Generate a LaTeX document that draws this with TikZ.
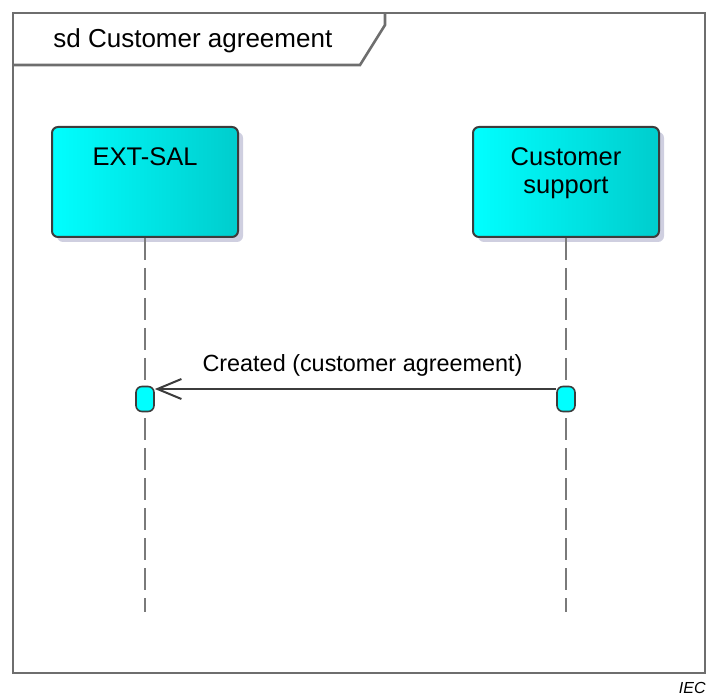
\documentclass[tikz,border=0pt]{standalone}
\usepackage{fontspec}
\setmainfont{Liberation Sans}
\usetikzlibrary{positioning,arrows.meta,shadows}
\definecolor{colorbox}{HTML}{00FFFF}
\definecolor{colorboxdk}{HTML}{00CDCD}
\definecolor{colorline}{HTML}{3C3C3C}
\definecolor{colorframe}{HTML}{6E6E6E}
\definecolor{colorshade}{HTML}{CFCFE0}
\definecolor{colorlife}{HTML}{7A7A7A}
\tikzset{
  framebox/.style={draw=colorframe, line width=1.3pt},
  actorbox/.style={draw=colorline, line width=1pt, rounded corners=3pt,
    left color=colorbox, right color=colorboxdk, inner sep=0pt,
    minimum width=93pt, minimum height=55pt,
    drop shadow={shadow xshift=2.5pt, shadow yshift=-2.5pt, fill=colorshade, opacity=1}},
  actorname/.style={font=\fontsize{12.75}{14}\selectfont, align=center, inner sep=0pt},
  actbar/.style={draw=colorline, line width=0.8pt, fill=colorbox, rounded corners=3pt,
    minimum width=9pt, minimum height=12.5pt, inner sep=0pt},
  lifeline/.style={colorlife, line width=1pt, dash pattern=on 11pt off 4pt},
  edgemsg/.style={colorline, line width=1pt, -{Straight Barb[length=12pt, width=10pt]}}
}

\begin{document}
\begin{tikzpicture}[x=0.5pt, y=-0.5pt]
\useasboundingbox (0,0) rectangle (707,695);
% frame and name tab
\draw[framebox] (13,13) rectangle (705,673);
\draw[framebox] (13,65) -- (360,65) -- (385,25) -- (385,13);
\node[anchor=base west, inner sep=0pt, font=\fontsize{13}{15}\selectfont] (title) at (53,48) {sd Customer agreement};
% lifelines
\node[actorbox] (ext) at (145,182) {};
\node[actorbox] (cs) at (566,182) {};
\node[actorname, anchor=north, below=10.5pt of ext.north] (extname) {EXT-SAL};
\node[actorname, anchor=north, below=10.5pt of cs.north] (csname) {Customer\\support};
\coordinate (extend) at (145,612);
\coordinate (csend) at (566,612);
\draw[lifeline] (ext) -- (extend);
\draw[lifeline] (cs) -- (csend);
\node[actbar] (extbar) at (145,399) {};
\node[actbar] (csbar) at (566,399) {};
% message
\draw[edgemsg] ([yshift=5pt]csbar.west) -- node[above=6pt, inner sep=0pt, xshift=3.5pt, text=black, font=\fontsize{11.7}{14}\selectfont] (msg) {Created (customer agreement)} ([yshift=5pt]extbar.east);
\node[anchor=base east, inner sep=0pt, font=\fontsize{8}{9}\selectfont\itshape] (iec) at (706,693) {IEC};
\end{tikzpicture}
\end{document}
